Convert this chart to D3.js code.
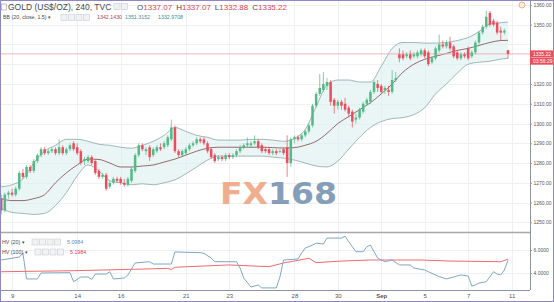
<!DOCTYPE html>
<html lang="en">
<head>
<meta charset="UTF-8">
<title>GOLD (US$/OZ), 240, TVC</title>
<script src="https://d3js.org/d3.v7.min.js"></script>
<style>
  body { margin: 0; background: #fff; }
  svg { display: block; font-family: "Liberation Sans", Arial, sans-serif; }
</style>
</head>
<body>
<div id="chart"></div>
<script>
// 4H candles, 8 Aug -> 11 Sep (one entry per bar)
const open = [1262,1256,1264,1265,1264,1267,1275,1273,1278,1276,1281,1284,1287,1285,1286,1287,1285,1288,1285,1287,
  1290,1288,1286,1281,1281,1283,1281,1276,1273,1274,1268,1270,1272,1272,1270,1269,1271,1276,1284,1289,
  1286,1288,1284,1286,1288,1288,1289,1292,1298,1286,1284,1285,1287,1289,1290,1292,1292,1290,1287,1284,
  1282,1283,1282,1284,1283,1284,1286,1288,1289,1289,1290,1291,1289,1287,1287,1285,1286,1286,1287,1288,
  1280,1292,1293,1292,1294,1296,1299,1309,1315,1317,1319,1321,1312,1309,1311,1310,1308,1306,1302,1303,
  1306,1310,1311,1316,1320,1319,1317,1317,1316,1322,1335,1335,1334,1335,1334,1334,1335,1337,1336,1331,
  1333,1337,1340,1339,1341,1339,1336,1333,1335,1338,1334,1336,1341,1346,1349,1356,1352,1351,1347,1346,1337.07];
const high = [1264,1265,1266,1267,1268,1276,1277,1279,1279,1282,1285,1288,1288,1287,1288,1288,1292,1289,1288,1290,
  1291,1290,1287,1283,1284,1284,1282,1277,1275,1275,1271,1273,1273,1273,1272,1273,1278,1285,1290,1290,
  1288,1289,1288,1289,1290,1291,1294,1302,1299,1287,1287,1288,1290,1291,1293,1293,1293,1291,1288,1285,
  1284,1284,1285,1285,1285,1287,1289,1290,1293,1291,1294,1292,1290,1288,1288,1287,1287,1287,1288,1294,
  1293,1294,1294,1295,1297,1300,1310,1316,1325,1326,1323,1322,1313,1312,1312,1313,1309,1307,1305,1308,
  1311,1313,1317,1322,1322,1320,1319,1319,1327,1326,1338,1337,1336,1337,1336,1337,1338,1338,1337,1334,
  1339,1345,1342,1342,1344,1340,1337,1336,1336,1339,1337,1342,1347,1350,1357,1357,1353,1352,1349,1348,1337.07];
const low = [1254,1255,1262,1263,1263,1266,1272,1272,1275,1275,1280,1283,1284,1284,1285,1284,1284,1284,1284,1286,
  1286,1284,1279,1279,1280,1279,1274,1272,1272,1266,1267,1269,1270,1269,1268,1268,1270,1275,1283,1286,
  1284,1281,1283,1285,1286,1287,1288,1291,1285,1283,1283,1284,1286,1288,1289,1290,1289,1285,1282,1280,
  1281,1281,1281,1282,1282,1283,1285,1287,1288,1288,1289,1287,1285,1285,1284,1284,1284,1285,1284,1273,
  1278,1290,1291,1291,1293,1295,1298,1308,1314,1316,1317,1309,1305,1307,1307,1306,1303,1298,1300,1302,
  1305,1309,1310,1315,1316,1315,1315,1314,1315,1321,1331,1332,1333,1332,1333,1333,1334,1333,1329,1330,
  1332,1336,1338,1338,1337,1333,1332,1332,1333,1332,1333,1335,1340,1345,1348,1349,1349,1345,1342,1345,1332.88];
const close = [1256,1264,1265,1264,1267,1275,1273,1278,1276,1281,1284,1287,1285,1286,1287,1285,1288,1285,1287,1289,
  1287,1285,1280,1282,1283,1280,1275,1273,1274,1267,1270,1272,1271,1270,1269,1272,1277,1284,1289,1287,
  1287,1283,1287,1288,1287,1290,1293,1298,1286,1284,1286,1287,1289,1290,1292,1291,1290,1286,1283,1281,
  1283,1282,1284,1283,1284,1286,1288,1289,1290,1290,1291,1288,1286,1286,1285,1286,1285,1286,1285,1280,
  1292,1293,1292,1294,1296,1299,1309,1315,1318,1320,1321,1311,1309,1311,1309,1307,1305,1301,1303,1307,
  1310,1312,1316,1321,1318,1316,1318,1316,1322,1323,1333,1333,1335,1333,1335,1336,1337,1334,1330,1333,
  1338,1340,1339,1341,1338,1334,1333,1335,1334,1333,1336,1341,1346,1349,1354,1350,1350,1346,1346,1347,1335.22];

// Bollinger Bands (20, close, 1.5) at every third bar
const bbIdx   = [0,3,6,9,12,15,18,21,24,27,30,33,36,39,42,45,48,51,54,57,60,63,66,69,72,75,78,81,84,87,90,93,96,99,102,105,108,111,114,117,120,123,126,129,132,135,138,140];
const bbUpper = [1268,1269,1272,1280,1286,1289,1292,1292,1291,1289.5,1289,1288,1287.5,1289,1291,1294,1298,1296,1294,1293,1291.6,1291.6,1291.6,1292,1292,1291.6,1291,1292.5,1297,1308.5,1319.5,1322,1322,1321,1321,1329,1338,1341,1341,1340.7,1340.7,1341,1342,1343.5,1346.5,1350.4,1351,1351.3];
const bbMid   = [1262,1261,1261,1262,1264,1270,1275,1279,1282,1281.8,1280,1278,1278,1278.5,1279,1280.5,1282,1284,1286,1287.5,1288,1288,1288,1288,1288,1287.8,1287.6,1287.8,1289,1291,1295,1300,1303.5,1307,1310.5,1315,1320,1326,1330,1332.5,1334,1335.5,1337,1338,1339.5,1341,1342,1342.1];
const bbLower = [1257,1255,1254.5,1254,1254.5,1258.5,1265,1273.5,1279,1276,1271,1270,1269,1269.5,1269,1270,1271.5,1274.5,1278,1281.5,1283.5,1283.5,1283.5,1283.5,1283.5,1283,1282.5,1281.5,1280,1278.5,1278,1281,1287,1293,1298,1301,1302.5,1303,1304.5,1308,1315,1320,1325.5,1330,1331,1331.5,1332.6,1333];

// Historical volatility
const hv20Idx = [0,5,6,7,10,11,19,20,22,24,25,26,29,30,31,34,35,37,41,42,47,48,55,56,58,59,65,66,67,69,71,72,76,77,78,82,83,84,86,87,89,90,94,95,96,98,100,101,102,103,104,106,108,110,113,114,117,118,121,123,125,127,129,130,131,132,134,136,137,138,139,140];
const hv20Val = [5.13,5.39,5.74,3.48,3.48,4.0,4.03,3.24,3.65,3.65,3.43,3.91,3.91,4.11,3.48,3.56,3.83,4.87,4.98,4.78,4.78,5.83,5.77,5.71,5.3,4.98,4.98,4.43,3.56,2.78,2.96,2.7,2.7,3.65,5.13,5.22,5.74,6.17,6.43,6.6,6.52,7.04,7.04,7.2,6.72,5.85,5.85,6.29,6.43,5.85,5.3,4.98,5.13,4.7,4.7,4.43,4.26,4.11,3.68,3.48,3.65,3.83,3.74,2.87,2.96,3.13,3.24,4.11,3.91,3.83,4.26,5.0984];
const hv100Idx = [0,20,40,46,47,48,63,74,78,85,87,94,102,116,124,138,140];
const hv100Val = [4.11,4.2,4.35,4.4,4.3,4.5,4.7,4.55,4.87,5.28,4.9,5.04,5.13,5.13,5.04,4.98,5.1984];

const dayTicks  = [3,21,33,51,63,81,93,105,117,129,141];
const dayLabels = ["9","14","16","21","23","28","30","Sep","5","7","11"];
const priceTicks = [1250,1260,1270,1280,1290,1300,1310,1320,1330,1340,1350,1360];
const hvTicks = [4,6];
const lastPrice = 1335.22;

const width = 554, height = 302;
const plotRight = 530;
const fontSans = "'Liberation Sans', Arial, sans-serif";

const svg = d3.select("#chart").append("svg")
  .attr("width", width).attr("height", height);

svg.append("rect").attr("width", width).attr("height", height).attr("fill", "#fff");

const x = d3.scaleLinear().domain([0, 141]).range([1.2, 511.6]);
const y = d3.scaleLinear().domain([1245.1, 1362.5]).range([232, 0]);
const yHv = d3.scaleLinear().domain([2.52, 7.48]).range([290, 233]);

// grid
const grid = svg.append("g").attr("stroke", "#eef0f4").attr("stroke-width", 1);
grid.selectAll(".hg").data(priceTicks).join("line")
  .attr("x1", 0).attr("x2", plotRight)
  .attr("y1", d => Math.round(y(d)) + 0.5).attr("y2", d => Math.round(y(d)) + 0.5);
grid.selectAll(".hv").data(hvTicks).join("line")
  .attr("x1", 0).attr("x2", plotRight)
  .attr("y1", d => Math.round(yHv(d)) + 0.5).attr("y2", d => Math.round(yHv(d)) + 0.5);
grid.selectAll(".vg").data(dayTicks).join("line")
  .attr("x1", d => Math.round(x(d)) + 0.5).attr("x2", d => Math.round(x(d)) + 0.5)
  .attr("y1", 0).attr("y2", 290);

// watermark
const wm = svg.append("text")
  .attr("x", 220).attr("y", 204)
  .attr("textLength", 117).attr("lengthAdjust", "spacingAndGlyphs")
  .style("font-family", "'DejaVu Sans', sans-serif")
  .style("font-weight", "bold").style("font-size", "30px")
  .style("opacity", 0.85);
wm.append("tspan").attr("fill", "#eea17c").text("FX");
wm.append("tspan").attr("fill", "#6f8fab").text("168");

// bollinger bands
const bb = bbIdx.map((d, k) => ({ i: d, u: bbUpper[k], m: bbMid[k], l: bbLower[k] }));
const curve = d3.curveMonotoneX;
svg.append("path").datum(bb)
  .attr("fill", "#dcefef").attr("fill-opacity", 0.6)
  .attr("d", d3.area().curve(curve).x(d => x(d.i)).y0(d => y(d.l)).y1(d => y(d.u)));
svg.append("path").datum(bb).attr("fill", "none").attr("stroke", "#8aa6a6").attr("stroke-width", 0.8)
  .attr("d", d3.line().curve(curve).x(d => x(d.i)).y(d => y(d.u)));
svg.append("path").datum(bb).attr("fill", "none").attr("stroke", "#8aa6a6").attr("stroke-width", 0.8)
  .attr("d", d3.line().curve(curve).x(d => x(d.i)).y(d => y(d.l)));
svg.append("path").datum(bb).attr("fill", "none").attr("stroke", "#7d4848").attr("stroke-width", 0.8)
  .attr("d", d3.line().curve(curve).x(d => x(d.i)).y(d => y(d.m)));

// last price line
svg.append("line")
  .attr("x1", 0).attr("x2", plotRight)
  .attr("y1", y(lastPrice)).attr("y2", y(lastPrice))
  .attr("stroke", "#f0b3b9").attr("stroke-width", 1);

// candles
const bars = open.map((o, i) => ({ i, o, h: high[i], l: low[i], c: close[i] }));
const up = "#53b987", down = "#eb4d5c";
const cg = svg.append("g");
cg.selectAll(".wick").data(bars).join("line")
  .attr("x1", d => x(d.i)).attr("x2", d => x(d.i))
  .attr("y1", d => y(d.h)).attr("y2", d => y(d.l))
  .attr("stroke", d => d.c >= d.o ? up : down).attr("stroke-width", 0.7);
cg.selectAll(".body").data(bars).join("rect")
  .attr("x", d => x(d.i) - 1.25).attr("width", 2.5)
  .attr("y", d => y(Math.max(d.o, d.c)))
  .attr("height", d => Math.max(0.8, Math.abs(y(d.o) - y(d.c))))
  .attr("fill", d => d.c >= d.o ? up : down);

// HV pane
const hv20 = hv20Idx.map((d, k) => [d, hv20Val[k]]);
const hv100 = hv100Idx.map((d, k) => [d, hv100Val[k]]);
svg.append("path").datum(hv100).attr("fill", "none").attr("stroke", "#ef6a6f").attr("stroke-width", 1)
  .attr("d", d3.line().x(d => x(d[0])).y(d => yHv(d[1])));
svg.append("path").datum(hv20).attr("fill", "none").attr("stroke", "#7fa7c4").attr("stroke-width", 1)
  .attr("d", d3.line().x(d => x(d[0])).y(d => yHv(d[1])));

// pane separator and axes
svg.append("line").attr("x1", 0).attr("x2", plotRight).attr("y1", 232.5).attr("y2", 232.5)
  .attr("stroke", "#a7a9ad").attr("stroke-width", 1.5);
svg.append("line").attr("x1", plotRight + 0.5).attr("x2", plotRight + 0.5).attr("y1", 0).attr("y2", 290)
  .attr("stroke", "#8f93a0");
svg.append("line").attr("x1", 0).attr("x2", plotRight).attr("y1", 290.5).attr("y2", 290.5)
  .attr("stroke", "#8f93a0");

const styleAxis = g => g
  .call(g => g.select(".domain").remove())
  .call(g => g.selectAll("line").attr("stroke", "#999"))
  .call(g => g.selectAll("text").style("font-size", "5px").attr("fill", "#555")
    .attr("font-family", fontSans));

// the price tag hides the nearby price label, as on the original
const labelTicks = priceTicks.filter(d => Math.abs(y(d) - y(lastPrice)) > 12);
const yAxis = d3.axisRight(y).tickValues(labelTicks).tickSize(2).tickPadding(1.5).tickFormat(d3.format(".2f"));
svg.append("g").attr("transform", `translate(${plotRight},0)`).call(yAxis).call(styleAxis);

const hvAxis = d3.axisRight(yHv).tickValues(hvTicks).tickSize(2).tickPadding(1.5).tickFormat(d3.format(".4f"));
svg.append("g").attr("transform", `translate(${plotRight},0)`).call(hvAxis).call(styleAxis);

const xAxis = d3.axisBottom(x).tickValues(dayTicks).tickSize(0).tickPadding(4)
  .tickFormat((d, k) => dayLabels[k]);
svg.append("g").attr("transform", "translate(0,290)").call(xAxis)
  .call(g => g.select(".domain").remove())
  .call(g => g.selectAll("text").style("font-size", "6px").attr("fill", "#555")
    .attr("font-family", fontSans)
    .style("font-weight", d => d === 105 ? "bold" : "normal"));

// price + countdown tags
svg.append("rect").attr("x", 530).attr("y", y(lastPrice) - 3.5).attr("width", 24).attr("height", 7).attr("fill", "#ea4d5b");
svg.append("rect").attr("x", 530).attr("y", y(lastPrice) + 3.8).attr("width", 24).attr("height", 7).attr("fill", "#ea4d5b");
svg.append("text").attr("x", 533).attr("y", y(lastPrice) + 1.9).attr("fill", "#fff").style("font-size", "5px").text(d3.format(".2f")(lastPrice));
svg.append("text").attr("x", 533).attr("y", y(lastPrice) + 9.2).attr("fill", "#fff").style("font-size", "5px").text("03:56:29");

// clock icon
svg.append("circle").attr("cx", 522).attr("cy", 5).attr("r", 3).attr("fill", "#fbeee2").attr("stroke", "#e8a96a").attr("stroke-width", 0.8);

// legends
function iconBoxes(x0, y0, n) {
  svg.append("g").selectAll("rect").data(d3.range(n)).join("rect")
    .attr("x", k => x0 + k * 7.5).attr("y", y0).attr("width", 6).attr("height", 6)
    .attr("fill", "#f1f2f4").attr("stroke", "#c9ccd2").attr("stroke-width", 0.6);
}
svg.append("rect").attr("x", 1.5).attr("y", 4).attr("width", 5).attr("height", 6)
  .attr("fill", "none").attr("stroke", "#999").attr("stroke-width", 0.6);
svg.append("text").attr("x", 8).attr("y", 10).style("font-size", "8.5px").attr("fill", "#4a4a4a")
  .text("GOLD (US$/OZ), 240, TVC ▾");
iconBoxes(114, 3.5, 2);
const ohlc = svg.append("text").attr("x", 137).attr("y", 10).style("font-size", "8px");
[["O", open[140]], ["H", high[140]], ["L", low[140]], ["C", close[140]]].forEach(([k, v], n) => {
  ohlc.append("tspan").attr("fill", "#4a4a4a").attr("dx", n ? 4 : 0).text(k);
  ohlc.append("tspan").attr("fill", "#e0444f").text(d3.format(".2f")(v));
});

const small = "5.3px";
svg.append("text").attr("x", 3).attr("y", 19).style("font-size", small).attr("fill", "#4a4a4a")
  .text("BB (20, close, 1.5) ▾");
iconBoxes(61, 14.5, 4);
svg.append("text").attr("x", 97).attr("y", 19).style("font-size", small).attr("fill", "#b5454f").text("1342.1430");
svg.append("text").attr("x", 125).attr("y", 19).style("font-size", small).attr("fill", "#3f8e95").text("1351.3152");
svg.append("text").attr("x", 158).attr("y", 19).style("font-size", small).attr("fill", "#3f8e95").text("1332.9708");

svg.append("text").attr("x", 2).attr("y", 243.5).style("font-size", small).attr("fill", "#4a4a4a").text("HV (20) ▾");
iconBoxes(32, 239, 4);
svg.append("text").attr("x", 67).attr("y", 243.5).style("font-size", small).attr("fill", "#5b8fbd").text("5.0984");
svg.append("text").attr("x", 2).attr("y", 253.5).style("font-size", small).attr("fill", "#4a4a4a").text("HV (100) ▾");
iconBoxes(35, 249, 4);
svg.append("text").attr("x", 70).attr("y", 253.5).style("font-size", small).attr("fill", "#e0444f").text("5.1984");

// frame
svg.append("rect").attr("x", 0.5).attr("y", 0.5).attr("width", width - 1).attr("height", height - 1)
  .attr("fill", "none").attr("stroke", "#8d88c4");
</script>
</body>
</html>
